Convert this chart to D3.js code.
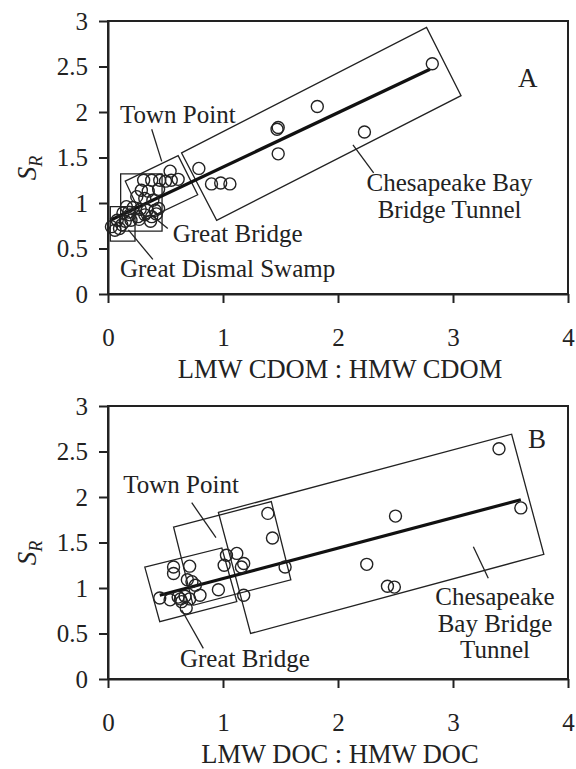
<!DOCTYPE html>
<html>
<head>
<meta charset="utf-8">
<script src="https://cdn.jsdelivr.net/npm/d3@7"></script>
<style>
  body { margin: 0; background: #fff; }
  text { fill: #222; }
  .axis path, .axis line { stroke: #222; stroke-width: 2; }
</style>
</head>
<body>
<div id="chart"></div>
<script>
// values
let xTicks = [0, 1, 2, 3, 4]
let yTicks = [0, 0.5, 1, 1.5, 2, 2.5, 3]

// panel A: LMW CDOM : HMW CDOM vs S_R
let cdomRatio = [2.82, 1.82, 1.47, 1.48, 1.48, 2.23, 0.79, 0.90, 0.98, 1.06,
  0.54, 0.61, 0.55, 0.45, 0.50, 0.38, 0.31, 0.44, 0.29, 0.35,
  0.25, 0.32, 0.39, 0.16, 0.22, 0.28, 0.34, 0.41, 0.44, 0.13,
  0.19, 0.26, 0.32, 0.38, 0.20, 0.27, 0.37, 0.42,
  0.03, 0.10, 0.08, 0.15, 0.06, 0.12, 0.18]
let cdomSr = [2.53, 2.06, 1.81, 1.83, 1.54, 1.78, 1.38, 1.21, 1.22, 1.21,
  1.35, 1.26, 1.25, 1.25, 1.24, 1.25, 1.25, 1.15, 1.14, 1.13,
  1.07, 1.05, 1.03, 0.96, 0.95, 0.93, 0.92, 0.92, 0.94, 0.89,
  0.87, 0.85, 0.87, 0.85, 0.81, 0.82, 0.80, 0.88,
  0.74, 0.72, 0.81, 0.80, 0.70, 0.76, 0.90]
let cdomFit = [[0.02, 0.81], [2.80, 2.47]]

// panel B: LMW DOC : HMW DOC vs S_R
let docRatio = [3.40, 3.59, 2.50, 2.25, 2.43, 2.49,
  1.39, 1.43, 1.54, 1.18, 1.03, 1.12, 1.01, 1.16, 1.18, 0.96,
  0.57, 0.57, 0.71, 0.69, 0.73, 0.76, 0.45, 0.54, 0.61, 0.63,
  0.67, 0.71, 0.80, 0.68, 0.64]
let docSr = [2.53, 1.88, 1.79, 1.26, 1.02, 1.01,
  1.82, 1.55, 1.23, 0.92, 1.36, 1.38, 1.25, 1.23, 1.27, 0.98,
  1.23, 1.16, 1.24, 1.09, 1.07, 1.03, 0.89, 0.87, 0.90, 0.88,
  0.91, 0.88, 0.92, 0.78, 0.85]
let docFit = [[0.45, 0.92], [3.59, 1.97]]

// site boxes (corners in data units)
let boxesA = [
  [[0.64, 1.55], [2.77, 2.93], [3.07, 2.18], [0.945, 0.81]],
  [[0.15, 1.24], [0.61, 1.52], [0.78, 1.09], [0.31, 0.81]],
  [[0.11, 1.32], [0.47, 1.32], [0.47, 0.69], [0.11, 0.69]],
  [[0.02, 0.96], [0.235, 0.96], [0.235, 0.58], [0.02, 0.58]]
]
let boxesB = [
  [[0.96, 1.83], [3.51, 2.69], [3.79, 1.37], [1.24, 0.50]],
  [[0.57, 1.67], [1.42, 1.95], [1.59, 1.09], [0.74, 0.81]],
  [[0.32, 1.23], [0.99, 1.44], [1.12, 0.85], [0.45, 0.63]]
]

let labelsA = [
  { lines: ['Town Point'], x: 0.104, y: 1.88, anchor: 'start' },
  { lines: ['Great Bridge'], x: 0.563, y: 0.576, anchor: 'start' },
  { lines: ['Great Dismal Swamp'], x: 0.104, y: 0.19, anchor: 'start' },
  { lines: ['Chesapeake Bay', 'Bridge Tunnel'], x: 2.97, y: 1.127, anchor: 'middle' }
]
let leadersA = [
  [[0.38, 1.81], [0.467, 1.457]],
  [[0.52, 0.72], [0.365, 0.88]],
  [[0.39, 0.38], [0.177, 0.705]],
  [[2.31, 1.33], [2.13, 1.64]]
]
let labelsB = [
  { lines: ['Town Point'], x: 0.133, y: 2.04, anchor: 'start' },
  { lines: ['Great Bridge'], x: 0.626, y: 0.135, anchor: 'start' },
  { lines: ['Chesapeake', 'Bay Bridge', 'Tunnel'], x: 3.365, y: 0.813, anchor: 'middle' }
]
let leadersB = [
  [[0.728, 1.937], [0.939, 1.553]],
  [[0.829, 0.337], [0.641, 0.758]],
  [[3.177, 1.454], [3.307, 1.107]]
]

let width = 576
let height = 769
let serif = '"Liberation Serif", "Times New Roman", serif'

let svg = d3
  .select('#chart')
  .append('svg')
  .attr('width', width)
  .attr('height', height)
  .style('font-family', serif)

let xPositionScale = d3.scaleLinear().domain([0, 4]).range([108, 568])

function drawPanel(opts) {
  let yPositionScale = d3.scaleLinear().domain([0, 3]).range([opts.bottom, opts.bottom - 273])
  let g = svg.append('g')

  let toPx = p => [xPositionScale(p[0]), yPositionScale(p[1])]

  // site boxes
  g.selectAll('.box')
    .data(opts.boxes)
    .enter()
    .append('path')
    .attr('class', 'box')
    .attr('d', d => 'M' + d.map(toPx).join('L') + 'Z')
    .attr('fill', 'none')
    .attr('stroke', '#222')
    .attr('stroke-width', 1.3)

  // leader lines
  g.selectAll('.leader')
    .data(opts.leaders)
    .enter()
    .append('path')
    .attr('class', 'leader')
    .attr('d', d => 'M' + d.map(toPx).join('L'))
    .attr('stroke', '#222')
    .attr('stroke-width', 1.3)

  // regression line
  g.append('path')
    .attr('d', d3.line().x(d => xPositionScale(d[0])).y(d => yPositionScale(d[1]))(opts.fit))
    .attr('stroke', '#111')
    .attr('stroke-width', 3.2)
    .attr('fill', 'none')

  // points
  g.selectAll('.pt')
    .data(opts.xs)
    .enter()
    .append('circle')
    .attr('class', 'pt')
    .attr('cx', d => xPositionScale(d))
    .attr('cy', (d, i) => yPositionScale(opts.ys[i]))
    .attr('r', 6)
    .attr('fill', 'none')
    .attr('stroke', '#222')
    .attr('stroke-width', 1.4)

  // labels
  let lab = g.selectAll('.lab')
    .data(opts.labels)
    .enter()
    .append('text')
    .attr('class', 'lab')
    .attr('font-size', 25)
    .attr('text-anchor', d => d.anchor)
  lab.each(function(d) {
    d3.select(this)
      .selectAll('tspan')
      .data(d.lines)
      .enter()
      .append('tspan')
      .attr('x', xPositionScale(d.x))
      .attr('y', (t, i) => yPositionScale(d.y) + i * 26.7)
      .text(t => t)
  })

  // frame
  g.append('rect')
    .attr('x', 108)
    .attr('y', opts.bottom - 273)
    .attr('width', 460)
    .attr('height', 273)
    .attr('fill', 'none')
    .attr('stroke', '#222')
    .attr('stroke-width', 2)

  let xAxis = d3.axisBottom(xPositionScale)
    .tickValues(xTicks)
    .tickFormat(d => d)
    .tickSize(9)
    .tickSizeOuter(0)
    .tickPadding(25)
  g.append('g')
    .attr('class', 'axis x-axis')
    .attr('transform', 'translate(0,' + opts.bottom + ')')
    .call(xAxis)

  let yAxis = d3.axisLeft(yPositionScale)
    .tickValues(yTicks)
    .tickFormat(d => d)
    .tickSize(9)
    .tickSizeOuter(0)
    .tickPadding(11)
  g.append('g')
    .attr('class', 'axis y-axis')
    .attr('transform', 'translate(108,0)')
    .call(yAxis)

  g.selectAll('.axis')
    .attr('font-family', null)
    .attr('font-size', 25)
  g.selectAll('.axis text')
    .style('font-family', serif)
    .attr('fill', '#222')

  // panel letter
  g.append('text')
    .attr('x', xPositionScale(opts.letterX))
    .attr('y', yPositionScale(opts.letterY))
    .attr('text-anchor', 'middle')
    .attr('font-size', 27)
    .text(opts.letter)

  // axis titles
  g.append('text')
    .attr('x', 340)
    .attr('y', opts.bottom + 84)
    .attr('text-anchor', 'middle')
    .attr('font-size', 26.5)
    .text(opts.xTitle)

  let yt = g.append('text')
    .attr('transform', 'translate(36,' + (opts.bottom - 126) + ') rotate(-90)')
    .attr('text-anchor', 'middle')
    .attr('font-size', 27)
  yt.append('tspan').attr('font-style', 'italic').text('S')
  yt.append('tspan').attr('font-style', 'italic').attr('font-size', 18).attr('dy', 6).text('R')
}

drawPanel({
  bottom: 294,
  xs: cdomRatio,
  ys: cdomSr,
  fit: cdomFit,
  boxes: boxesA,
  leaders: leadersA,
  labels: labelsA,
  letter: 'A',
  letterX: 3.65,
  letterY: 2.28,
  xTitle: 'LMW CDOM : HMW CDOM'
})

drawPanel({
  bottom: 679,
  xs: docRatio,
  ys: docSr,
  fit: docFit,
  boxes: boxesB,
  leaders: leadersB,
  labels: labelsB,
  letter: 'B',
  letterX: 3.73,
  letterY: 2.54,
  xTitle: 'LMW DOC : HMW DOC'
})
</script>
</body>
</html>
